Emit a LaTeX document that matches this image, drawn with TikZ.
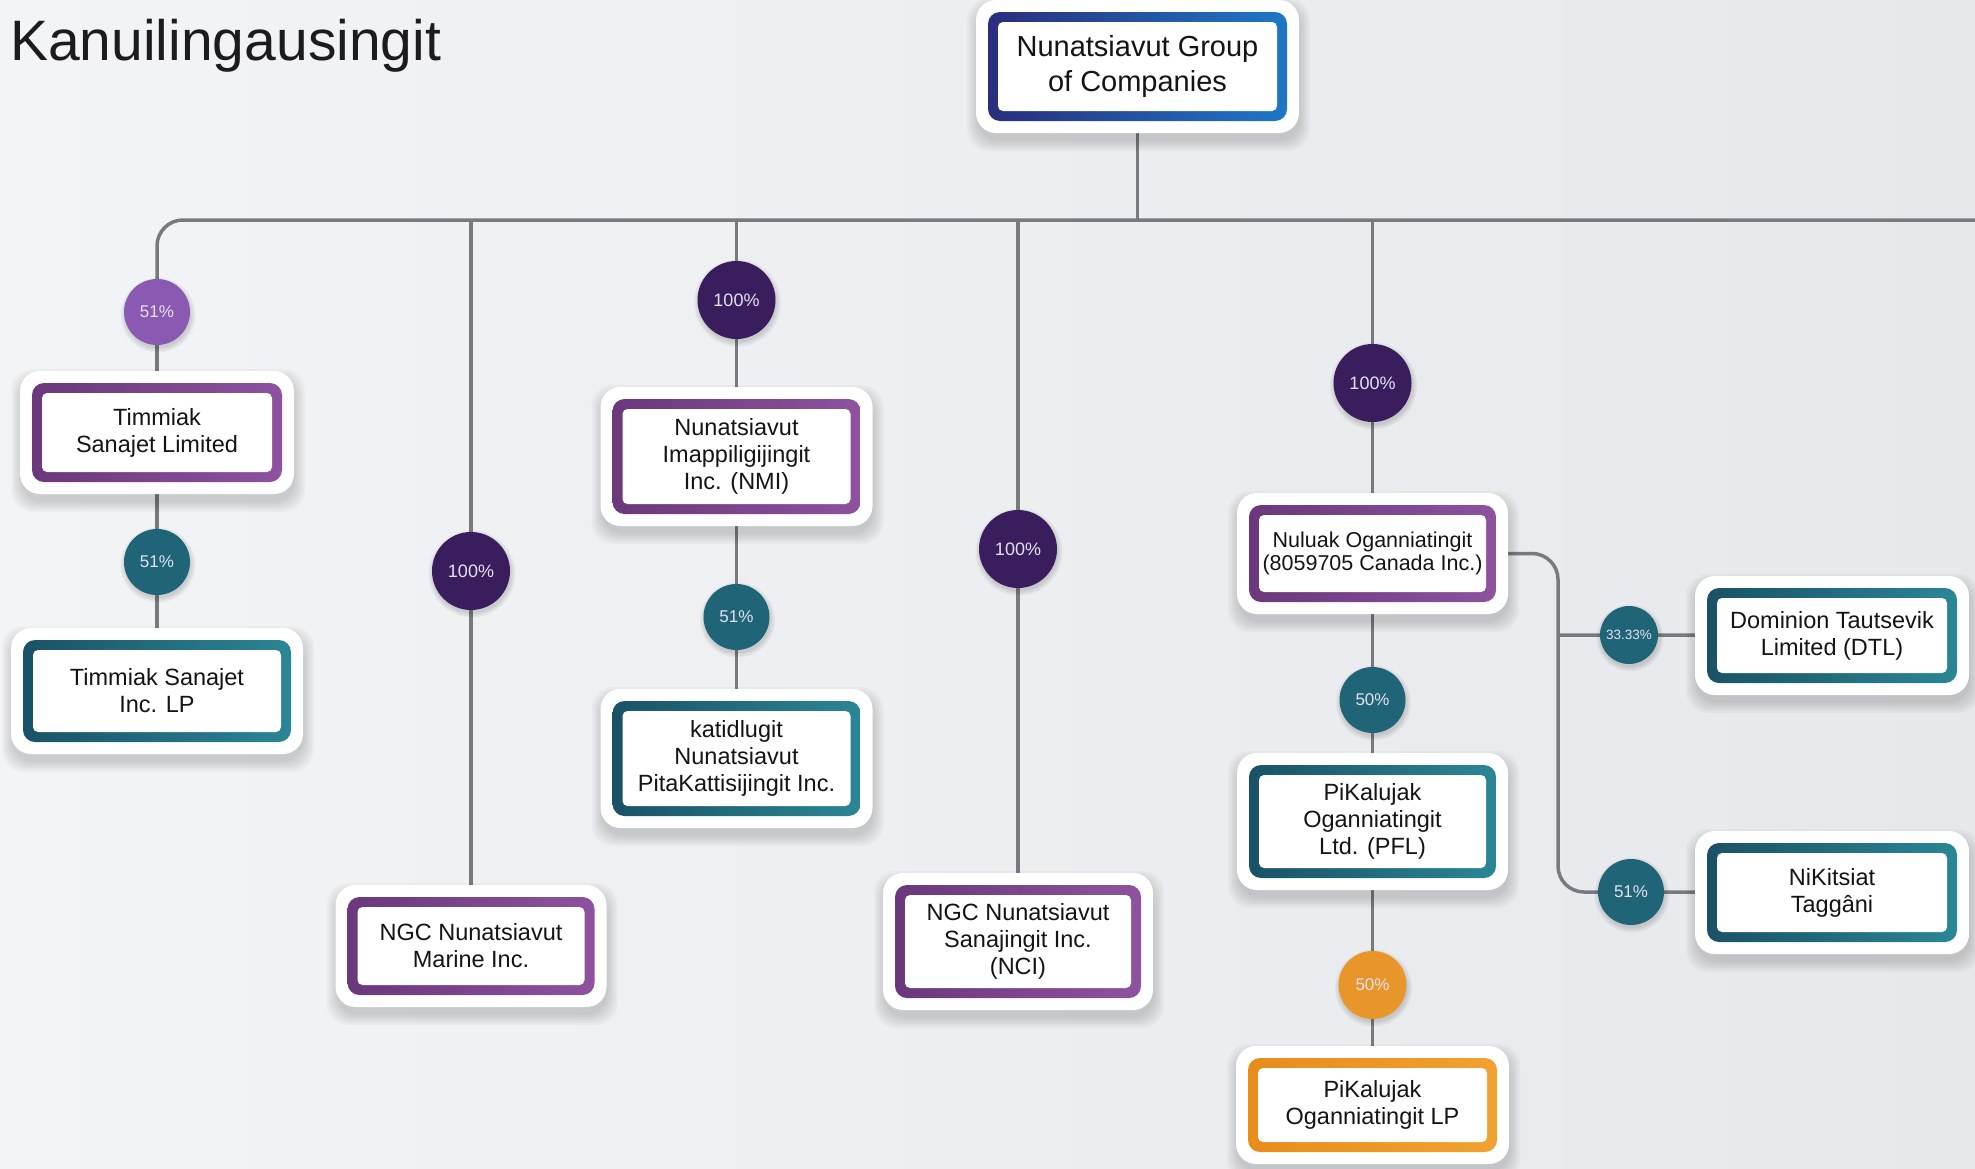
\documentclass[tikz,border=0pt]{standalone}
\usepackage{fontspec}
\setmainfont{Liberation Sans}
\pgfdeclarelayer{bgl}\pgfdeclarelayer{lines}
\pgfsetlayers{bgl,lines,main}
\definecolor{bgL}{HTML}{F2F4F6}
\definecolor{bgR}{HTML}{E6E8EB}
\definecolor{titlecol}{HTML}{1C1C1E}
\definecolor{rootL}{HTML}{2A2D7E}
\definecolor{rootR}{HTML}{1D78C6}
\definecolor{purL}{HTML}{6A387B}
\definecolor{purR}{HTML}{8E529F}
\definecolor{tealL}{HTML}{1A5266}
\definecolor{tealR}{HTML}{2A8695}
\definecolor{orL}{HTML}{E88C1A}
\definecolor{orR}{HTML}{F0A230}
\definecolor{cPurple}{HTML}{8A5AB3}
\definecolor{cDark}{HTML}{3A1D5D}
\definecolor{cTeal}{HTML}{1F6477}
\definecolor{cOrange}{HTML}{E8952A}
\definecolor{conncol}{HTML}{777B80}
\definecolor{pcttext}{HTML}{E4E2F0}
\newcommand\orgcard[7]{%
  \foreach \k in {0,...,5}{%
    \fill[black, opacity=0.028, rounded corners=22pt]
      ({#2-#4/2-12-2*\k+1},{#3-#5/2-12-2*\k+8}) rectangle ({#2+#4/2+12+2*\k+1},{#3+#5/2+12+2*\k+8});
  }
  \fill[white, rounded corners=20pt]
    ({#2-#4/2-12},{#3-#5/2-12}) rectangle ({#2+#4/2+12},{#3+#5/2+12});
  \node[#6, minimum width=#4pt, minimum height=#5pt] (#1) at (#2,#3) {#7};
}
\newcommand\pctshadow[3]{%
  \foreach \k in {0,...,3}{%
    \fill[black, opacity=0.04] ({#1+1},{#2+3}) circle ({#3/2+1.5*\k});
  }
}
\begin{document}
\begin{tikzpicture}[x=1pt,y=-1pt,
  orgbox/.style={rectangle, rounded corners=12pt, inner sep=0pt, align=center,
    text=black!92, font=\fontsize{23.5}{27}\selectfont,
    path picture={\fill[white, rounded corners=5pt]
      ([shift={(10pt,10pt)}]path picture bounding box.south west) rectangle
      ([shift={(-10pt,-10pt)}]path picture bounding box.north east);}},
  rootbox/.style={orgbox, left color=rootL, right color=rootR, font=\fontsize{29}{35}\selectfont},
  purplebox/.style={orgbox, left color=purL, right color=purR},
  tealbox/.style={orgbox, left color=tealL, right color=tealR},
  orangebox/.style={orgbox, left color=orL, right color=orR},
  pct/.style={circle, inner sep=0pt, text=pcttext, font=\fontsize{17}{17}\selectfont},
  conn/.style={draw=conncol, line width=3.5pt}
]
\useasboundingbox (0,0) rectangle (1975,1168);
\begin{pgfonlayer}{bgl}
  \shade[left color=bgL, right color=bgR] (0,0) rectangle (1975,1168);
\end{pgfonlayer}

\node[anchor=base west, inner sep=0pt, text=titlecol, font=\fontsize{57}{60}\selectfont] (title) at (10,60) {Kanuilingausingit};

\coordinate (hr) at (1975,220);
\coordinate (vx) at (1558,700);

% cards
\orgcard{root}{1137.5}{66.5}{299}{109}{rootbox}{Nunatsiavut Group\\of Companies}
\orgcard{tsl}{157}{432.5}{250}{99}{purplebox}{Timmiak\\Sanajet Limited}
\orgcard{tslp}{157}{691}{268}{102}{tealbox}{Timmiak Sanajet\\Inc. LP}
\orgcard{marine}{471}{946}{247}{98}{purplebox}{NGC Nunatsiavut\\Marine Inc.}
\orgcard{nmi}{736.5}{456.5}{248}{115}{purplebox}{Nunatsiavut\\Imappiligijingit\\Inc. (NMI)}
\orgcard{kat}{736.5}{758.5}{248}{115}{tealbox}{katidlugit\\Nunatsiavut\\PitaKattisijingit Inc.}
\orgcard{nci}{1018}{941.5}{246}{113}{purplebox}{NGC Nunatsiavut\\Sanajingit Inc.\\(NCI)}
\orgcard{nuluak}{1372.5}{553.5}{247}{97}{purplebox,font=\fontsize{21.5}{23.5}\selectfont}{Nuluak Oganniatingit\\(8059705 Canada Inc.)}
\orgcard{pfl}{1372.5}{821.5}{247}{113}{tealbox}{PiKalujak\\Oganniatingit\\Ltd. (PFL)}
\orgcard{pflp}{1372.5}{1105}{249}{94}{orangebox}{PiKalujak\\Oganniatingit LP}
\orgcard{dtl}{1832}{635.5}{250}{95}{tealbox}{Dominion Tautsevik\\Limited (DTL)}
\orgcard{nik}{1832}{892.5}{250}{99}{tealbox}{NiKitsiat\\Taggâni}

% ownership circles (soft shadows first)
\pctshadow{157}{312}{66}
\pctshadow{157}{562}{66}
\pctshadow{471}{571}{78}
\pctshadow{736.5}{300}{78}
\pctshadow{736.5}{617}{66}
\pctshadow{1018}{549}{78}
\pctshadow{1372.5}{383}{78}
\pctshadow{1372.5}{700}{66}
\pctshadow{1372.5}{985}{68}
\pctshadow{1629}{635}{58}
\pctshadow{1631}{892}{66}
\node[pct, fill=cPurple, minimum size=66pt] (c1) at (157,312) {51\%};
\node[pct, fill=cTeal, minimum size=66pt] (c2) at (157,562) {51\%};
\node[pct, fill=cDark, minimum size=78pt, font=\fontsize{18}{18}\selectfont] (c3) at (471,571) {100\%};
\node[pct, fill=cDark, minimum size=78pt, font=\fontsize{18}{18}\selectfont] (c4) at (736.5,300) {100\%};
\node[pct, fill=cTeal, minimum size=66pt] (c5) at (736.5,617) {51\%};
\node[pct, fill=cDark, minimum size=78pt, font=\fontsize{18}{18}\selectfont] (c6) at (1018,549) {100\%};
\node[pct, fill=cDark, minimum size=78pt, font=\fontsize{18}{18}\selectfont] (c7) at (1372.5,383) {100\%};
\node[pct, fill=cTeal, minimum size=66pt] (c8) at (1372.5,700) {50\%};
\node[pct, fill=cOrange, minimum size=68pt] (c9) at (1372.5,985) {50\%};
\node[pct, fill=cTeal, minimum size=58pt, font=\fontsize{13.5}{14}\selectfont] (c10) at (1629,635) {33.33\%};
\node[pct, fill=cTeal, minimum size=66pt] (c11) at (1631,892) {51\%};

% connectors
\begin{pgfonlayer}{lines}
  \draw[conn] (root) -- (root |- hr);
  \draw[conn, rounded corners=26pt] (hr) -| (c1);
  \draw[conn] (c1) -- (tsl) -- (c2) -- (tslp);
  \draw[conn] (c3 |- hr) -- (c3) -- (marine);
  \draw[conn] (c4 |- hr) -- (c4) -- (nmi) -- (c5) -- (kat);
  \draw[conn] (c6 |- hr) -- (c6) -- (nci);
  \draw[conn] (c7 |- hr) -- (c7) -- (nuluak) -- (c8) -- (pfl) -- (c9) -- (pflp);
  \draw[conn, rounded corners=26pt] (nuluak.east) -| (vx) |- (c11);
  \draw[conn] (c11) -- (nik);
  \draw[conn] (vx |- c10) -- (c10) -- (dtl);
\end{pgfonlayer}
\end{tikzpicture}
\end{document}
